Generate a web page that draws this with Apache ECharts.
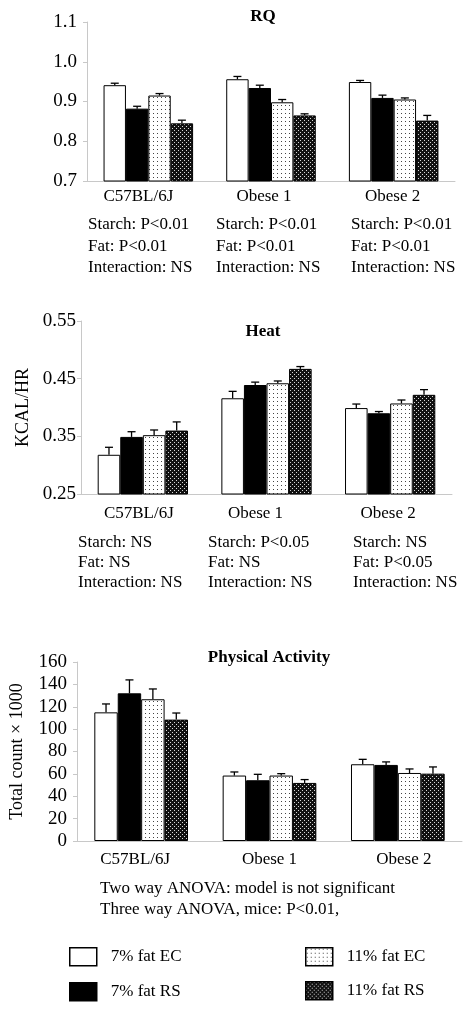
<!DOCTYPE html>
<html>
<head>
<meta charset="utf-8">
<script src="https://cdn.jsdelivr.net/npm/echarts@6/dist/echarts.min.js"></script>
<style>html,body{margin:0;padding:0;background:#fff}#c{width:470px;height:1012px}</style>
</head>
<body>
<div id="c"></div>
<script>
// ---------- DATA ----------
const categories = ['C57BL/6J', 'Obese 1', 'Obese 2'];
const seriesNames = ['7% fat EC', '7% fat RS', '11% fat EC', '11% fat RS'];

// RQ
const rqEC7 = [0.941, 0.956, 0.949];
const rqRS7 = [0.882, 0.934, 0.909];
const rqEC11 = [0.915, 0.898, 0.905];
const rqRS11 = [0.845, 0.865, 0.852];
const rqErrEC7 = [0.005, 0.007, 0.004];
const rqErrRS7 = [0.006, 0.007, 0.007];
const rqErrEC11 = [0.005, 0.007, 0.004];
const rqErrRS11 = [0.008, 0.004, 0.013];

// Heat (KCAL/HR)
const heatEC7 = [0.318, 0.416, 0.399];
const heatRS7 = [0.349, 0.439, 0.390];
const heatEC11 = [0.352, 0.442, 0.407];
const heatRS11 = [0.360, 0.467, 0.422];
const heatErrEC7 = [0.013, 0.012, 0.007];
const heatErrRS7 = [0.009, 0.005, 0.003];
const heatErrEC11 = [0.009, 0.004, 0.006];
const heatErrRS11 = [0.015, 0.004, 0.009];

// Physical activity (total count x 1000)
const paEC7 = [115, 58.5, 68.6];
const paRS7 = [132, 54.3, 68];
const paEC11 = [126.7, 58.5, 60.8];
const paRS11 = [108.5, 51.9, 60.2];
const paErrEC7 = [7.5, 3.2, 4.4];
const paErrRS7 = [12, 5.3, 2.7];
const paErrEC11 = [9.2, 1.7, 3.6];
const paErrRS11 = [5.9, 3.0, 6.0];

const rqStats = [
  ['Starch: P<0.01', 'Fat: P<0.01', 'Interaction: NS'],
  ['Starch: P<0.01', 'Fat: P<0.01', 'Interaction: NS'],
  ['Starch: P<0.01', 'Fat: P<0.01', 'Interaction: NS']
];
const heatStats = [
  ['Starch: NS', 'Fat: NS', 'Interaction: NS'],
  ['Starch: P<0.05', 'Fat: NS', 'Interaction: NS'],
  ['Starch: NS', 'Fat: P<0.05', 'Interaction: NS']
];
const paNotes = ['Two way ANOVA: model is not significant', 'Three way ANOVA, mice: P<0.01,'];
const panelTitles = ['RQ', 'Heat', 'Physical Activity'];
const yNames = ['', 'KCAL/HR', 'Total count \u00d7 1000'];

// ---------- STYLE ----------
const FONT = '"Liberation Serif", "Times New Roman", serif';
function pattern(size, bg, fg, pts) {
  const c = document.createElement('canvas');
  c.width = size; c.height = size;
  const g = c.getContext('2d');
  g.fillStyle = bg; g.fillRect(0, 0, size, size);
  g.fillStyle = fg;
  pts.forEach(p => g.fillRect(p[0], p[1], 1, 1));
  return { image: c, repeat: 'repeat' };
}
const fills = [
  '#ffffff',
  '#000000',
  pattern(4, '#ffffff', '#444444', [[1, 1]]),
  pattern(4, '#111111', '#d8d8d8', [[0, 0], [2, 2]])
];

const panels = [
  { vals: [rqEC7, rqRS7, rqEC11, rqRS11], errs: [rqErrEC7, rqErrRS7, rqErrEC11, rqErrRS11],
    grid: { left: 87, right: 15, top: 22, bottom: 831 }, min: 0.7, max: 1.1, interval: 0.1, dec: 1,
    labelMargin: 10, catMargin: 7, catShift: [-10, -7, -1], nameGap: 0 },
  { vals: [heatEC7, heatRS7, heatEC11, heatRS11], errs: [heatErrEC7, heatErrRS7, heatErrEC11, heatErrRS11],
    grid: { left: 81, right: 18, top: 321, bottom: 518 }, min: 0.25, max: 0.55, interval: 0.1, dec: 2,
    labelMargin: 5, catMargin: 11, catShift: [-4, -11, -2], nameGap: 42 },
  { vals: [paEC7, paRS7, paEC11, paRS11], errs: [paErrEC7, paErrRS7, paErrEC11, paErrRS11],
    grid: { left: 74, right: 8, top: 662, bottom: 171 }, min: 0, max: 160, interval: 20, dec: 0,
    labelMargin: 10, catMargin: 10, catShift: [-6, 0, 6], nameGap: 51 }
];

const grids = [], xAxes = [], yAxes = [], series = [];
panels.forEach((p, pi) => {
  grids.push(p.grid);
  const rich = {};
  p.catShift.forEach((s, i) => {
    rich['c' + i] = { fontFamily: FONT, fontSize: 17, color: '#000',
      padding: s < 0 ? [0, -2 * s, 0, 0] : [0, 0, 0, 2 * s] };
  });
  xAxes.push({
    type: 'category', gridIndex: pi, data: categories,
    axisLine: { lineStyle: { color: '#c8c8c8', width: 1 } },
    axisTick: { show: false },
    axisLabel: { margin: p.catMargin, interval: 0,
      formatter: (v, i) => '{c' + i + '|' + v + '}', rich: rich }
  });
  yAxes.push({
    type: 'value', gridIndex: pi, min: p.min, max: p.max, interval: p.interval,
    name: yNames[pi], nameLocation: 'middle', nameGap: p.nameGap,
    nameTextStyle: { fontFamily: FONT, fontSize: 18, color: '#000' },
    splitLine: { show: false },
    axisLine: { show: true, lineStyle: { color: '#c8c8c8', width: 1 } },
    axisTick: { show: true, length: 4, lineStyle: { color: '#c8c8c8' } },
    axisLabel: { margin: p.labelMargin, fontFamily: FONT, fontSize: 19, color: '#000',
      formatter: v => Number(v).toFixed(p.dec) }
  });
  p.vals.forEach((arr, si) => {
    series.push({
      type: 'bar', name: seriesNames[si], xAxisIndex: pi, yAxisIndex: pi,
      data: arr, barGap: '0%', barCategoryGap: '27%',
      itemStyle: { color: fills[si], borderColor: '#000', borderWidth: 1 },
      emphasis: { disabled: true }, z: 2
    });
  });
  const errData = [];
  p.vals.forEach((arr, si) => arr.forEach((v, ci) => errData.push([ci, v, p.errs[si][ci], si])));
  series.push({
    type: 'custom', xAxisIndex: pi, yAxisIndex: pi, data: errData, z: 5, silent: true,
    renderItem: function (params, api) {
      const ci = api.value(0), v = api.value(1), e = api.value(2), si = api.value(3);
      const band = api.size([1, 0])[0];
      const bw = band * 0.73 / 4;
      const base = api.coord([ci, v]);
      const top = api.coord([ci, v + e]);
      const x = base[0] + (si - 1.5) * bw;
      const cap = 4;
      return { type: 'group', children: [
        { type: 'line', shape: { x1: x, y1: base[1], x2: x, y2: top[1] }, style: { stroke: '#000', lineWidth: 1.3 } },
        { type: 'line', shape: { x1: x - cap, y1: top[1], x2: x + cap, y2: top[1] }, style: { stroke: '#000', lineWidth: 1.3 } }
      ] };
    }
  });
});

// ---------- TEXT ----------
const graphics = [];
function txt(t, x, y, opts) {
  graphics.push({ type: 'text', silent: true, style: Object.assign({
    text: t, x: x, y: y, fill: '#000', font: '17px ' + FONT,
    textAlign: 'left', textVerticalAlign: 'middle' }, opts || {}) });
}
const titlePos = [[263, 17], [263, 332], [269, 658]];
panelTitles.forEach((t, i) => txt(t, titlePos[i][0], titlePos[i][1],
  { font: 'bold 17px ' + FONT, textAlign: 'center' }));
const rqCols = [88, 216, 351], rqRows = [225, 247, 268];
rqStats.forEach((col, ci) => col.forEach((t, ri) => txt(t, rqCols[ci], rqRows[ri])));
const hCols = [78, 208, 353], hRows = [543, 563, 583];
heatStats.forEach((col, ci) => col.forEach((t, ri) => txt(t, hCols[ci], hRows[ri])));
paNotes.forEach((t, i) => txt(t, 100, [889, 910][i]));

const legendPos = [[69, 947], [69, 982], [305, 947], [305, 981]];
const legends = seriesNames.map((n, i) => ({
  left: legendPos[i][0], top: legendPos[i][1], data: [n],
  itemWidth: 27, itemHeight: 18, icon: 'rect', selectedMode: false, padding: 0,
  itemStyle: { borderColor: '#000', borderWidth: 1.5 },
  textStyle: { fontFamily: FONT, fontSize: 17, color: '#000', padding: [0, 0, 0, 9] }
}));

const chart = echarts.init(document.getElementById('c'), null, { renderer: 'canvas' });
chart.setOption({
  animation: false,
  backgroundColor: '#fff',
  textStyle: { fontFamily: FONT },
  grid: grids, xAxis: xAxes, yAxis: yAxes, series: series,
  legend: legends,
  graphic: graphics
});
</script>
</body>
</html>
